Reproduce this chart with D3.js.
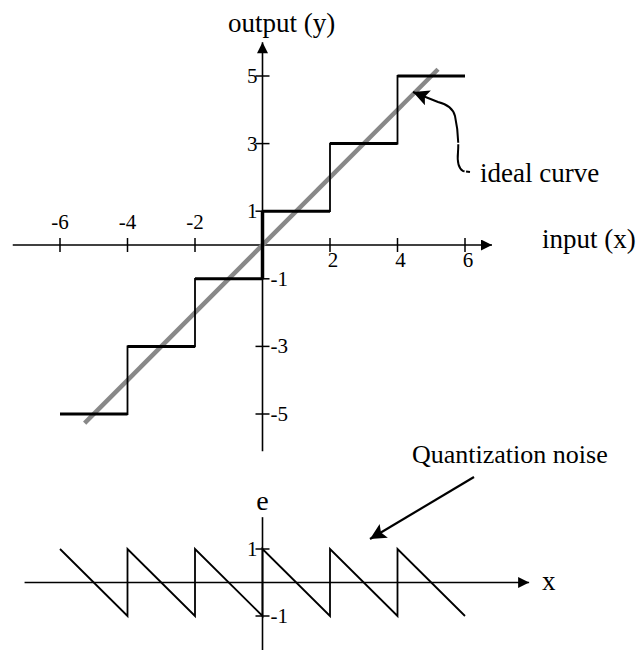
<!DOCTYPE html>
<html>
<head>
<meta charset="utf-8">
<script src="https://cdn.jsdelivr.net/npm/d3@7"></script>
<style>
  body { margin: 0; background: #fff; }
</style>
</head>
<body>
<div id="chart"></div>
<script>
// quantizer input ticks / output levels
const xTicks = [-6, -4, -2, 2, 4, 6];
const yTicks = [5, 3, 1, -1, -3, -5];
// staircase: each step [x start, x end, output level]
const stepX0 = [-6, -4, -2, 0, 2, 4];
const stepX1 = [-4, -2, 0, 2, 4, 6];
const stepLevel = [-5, -3, -1, 1, 3, 5];
// ideal curve y = x, drawn between these inputs
const idealX = [-5.27, 5.2];
// quantization noise sawtooth
const noiseX = [-6, -4, -4, -2, -2, 0, 0, 2, 2, 4, 4, 6];
const noiseE = [1, -1, 1, -1, 1, -1, 1, -1, 1, -1, 1, -1];
const eTicks = [1, -1];

const W = 642, H = 650;
const FONT = "'Liberation Serif', 'DejaVu Serif', Times, serif";
const svg = d3.select("#chart").append("svg")
  .attr("width", W).attr("height", H)
  .attr("font-family", FONT)
  .style("font-family", FONT);

const defs = svg.append("defs");
defs.append("marker")
  .attr("id", "head")
  .attr("viewBox", "0 0 10 10")
  .attr("refX", 10).attr("refY", 5)
  .attr("markerWidth", 22).attr("markerHeight", 11)
  .attr("markerUnits", "userSpaceOnUse")
  .attr("orient", "auto")
  .append("path").attr("d", "M0,0 L10,5 L0,10 Z").attr("fill", "#000");
defs.append("marker")
  .attr("id", "bighead")
  .attr("viewBox", "0 0 10 10")
  .attr("refX", 10).attr("refY", 5)
  .attr("markerWidth", 26).attr("markerHeight", 16)
  .attr("markerUnits", "userSpaceOnUse")
  .attr("orient", "auto")
  .append("path").attr("d", "M0,0 L10,5 L0,10 L2,5 Z").attr("fill", "#000");

// scales
const x = d3.scaleLinear().domain([-6, 6]).range([60, 465]);
const y = d3.scaleLinear().domain([-5, 5]).range([414, 76]);
const e = d3.scaleLinear().domain([-1, 1]).range([616, 549]);

const line = (pts) => d3.line()(pts);

// ---------- top plot ----------
const gTop = svg.append("g");

// axes
gTop.append("path")
  .attr("d", line([[x(-7.4), y(0)], [x(6.8), y(0)]]))
  .attr("stroke", "#000").attr("stroke-width", 1.6).attr("marker-end", "url(#head)");
gTop.append("path")
  .attr("d", line([[x(0), y(-6.1)], [x(0), y(6.0)]]))
  .attr("stroke", "#000").attr("stroke-width", 1.6).attr("marker-end", "url(#head)");

// x ticks
gTop.selectAll(".xt").data(xTicks).join("line")
  .attr("x1", d => x(d)).attr("x2", d => x(d))
  .attr("y1", y(0) - 7).attr("y2", y(0) + 7)
  .attr("stroke", "#000").attr("stroke-width", 1.5);
gTop.selectAll(".xl").data(xTicks).join("text")
  .attr("x", d => x(d) + (d > 0 ? 3 : 0))
  .attr("y", d => d < 0 ? y(0) - 16 : y(0) + 22)
  .attr("text-anchor", "middle")
  .attr("font-size", 21)
  .text(d => d);

// y ticks
gTop.selectAll(".yt").data(yTicks).join("line")
  .attr("x1", x(0) - 7).attr("x2", x(0) + 7)
  .attr("y1", d => y(d)).attr("y2", d => y(d))
  .attr("stroke", "#000").attr("stroke-width", 1.5);
gTop.selectAll(".yl").data(yTicks).join("text")
  .attr("x", d => d > 0 ? x(0) - 5 : x(0) + 8)
  .attr("y", d => y(d) + 7)
  .attr("text-anchor", d => d > 0 ? "end" : "start")
  .attr("font-size", 21)
  .text(d => d > 0 ? d : "-" + Math.abs(d));

// ideal curve
gTop.append("path")
  .attr("d", line(idealX.map(v => [x(v), y(v)])))
  .attr("stroke", "#888").attr("stroke-width", 4.5).attr("fill", "none");

// staircase
const stairs = [];
stepLevel.forEach((lv, i) => {
  stairs.push([x(stepX0[i]), y(lv)], [x(stepX1[i]), y(lv)]);
});
gTop.append("path")
  .attr("d", line(stairs))
  .attr("stroke", "#000").attr("stroke-width", 1.8).attr("fill", "none");
gTop.selectAll(".hs").data(stepLevel).join("line")
  .attr("x1", (d, i) => x(stepX0[i])).attr("x2", (d, i) => x(stepX1[i]))
  .attr("y1", d => y(d)).attr("y2", d => y(d))
  .attr("stroke", "#000").attr("stroke-width", 3);
gTop.append("line")
  .attr("x1", x(0)).attr("x2", x(0)).attr("y1", y(-1)).attr("y2", y(1))
  .attr("stroke", "#000").attr("stroke-width", 3.5);

// labels
gTop.append("text").attr("x", 228).attr("y", 32).attr("font-size", 27).text("output (y)");
gTop.append("text").attr("x", 542).attr("y", 248).attr("font-size", 27).text("input (x)");
gTop.append("text").attr("x", 480).attr("y", 182).attr("font-size", 27).text("ideal curve");

// wavy pointer to ideal curve
gTop.append("path")
  .attr("d", "M470,172 L463,171 C458,168 457,162 458,152 C459,140 457,125 455,116 C453,108 446,104 438,102 L413,92")
  .attr("stroke", "#000").attr("stroke-width", 2).attr("fill", "none")
  .attr("stroke-dasharray", "4,1.5,30,1.5,200")
  .attr("marker-end", "url(#bighead)");

// ---------- bottom plot ----------
const gBot = svg.append("g");
gBot.append("path")
  .attr("d", line([[x(-7.05), e(0)], [x(7.9), e(0)]]))
  .attr("stroke", "#000").attr("stroke-width", 1.6).attr("marker-end", "url(#head)");
gBot.append("line")
  .attr("x1", x(0)).attr("x2", x(0)).attr("y1", e(1.95)).attr("y2", H)
  .attr("stroke", "#000").attr("stroke-width", 1.6);

gBot.selectAll(".et").data(eTicks).join("line")
  .attr("x1", x(0) - 7).attr("x2", x(0) + 7)
  .attr("y1", d => e(d)).attr("y2", d => e(d))
  .attr("stroke", "#000").attr("stroke-width", 1.5);
gBot.selectAll(".el").data(eTicks).join("text")
  .attr("x", d => d > 0 ? x(0) - 5 : x(0) + 8)
  .attr("y", d => e(d) + 7)
  .attr("text-anchor", d => d > 0 ? "end" : "start")
  .attr("font-size", 21)
  .text(d => d > 0 ? d : "-" + Math.abs(d));

gBot.append("path")
  .attr("d", line(noiseX.map((v, i) => [x(v), e(noiseE[i])])))
  .attr("stroke", "#000").attr("stroke-width", 1.8).attr("fill", "none");

gBot.append("text").attr("x", x(0)).attr("y", 510).attr("text-anchor", "middle")
  .attr("font-size", 28).text("e");
gBot.append("text").attr("x", 542).attr("y", 590).attr("font-size", 27).text("x");
gBot.append("text").attr("x", 412).attr("y", 463).attr("font-size", 26).text("Quantization noise");

gBot.append("path")
  .attr("d", line([[474, 477], [370, 539]]))
  .attr("stroke", "#000").attr("stroke-width", 2.2).attr("fill", "none")
  .attr("marker-end", "url(#bighead)");
</script>
</body>
</html>
